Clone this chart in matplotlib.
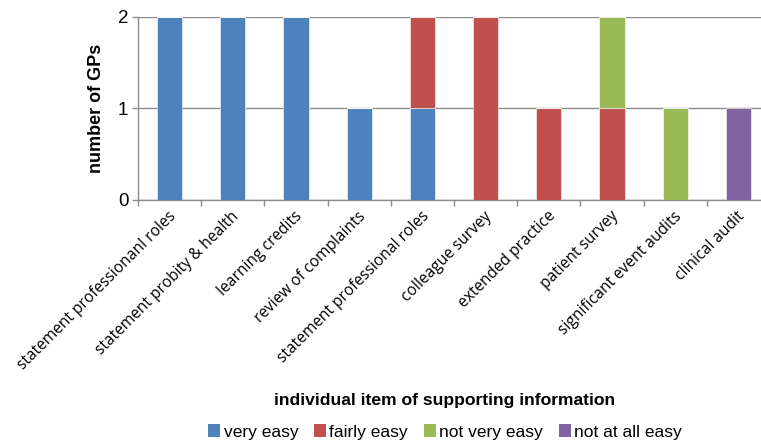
import numpy as np
import matplotlib
matplotlib.use('Agg')
import matplotlib.pyplot as plt
from matplotlib.patches import Patch

items = ['statement professionanl roles', 'statement probity & health',
         'learning credits', 'review of complaints',
         'statement professional roles', 'colleague survey',
         'extended practice', 'patient survey',
         'significant event audits', 'clinical audit']
levels = ['very easy', 'fairly easy', 'not very easy', 'not at all easy']
very_easy = [2, 2, 2, 1, 1, 0, 0, 0, 0, 0]
fairly_easy = [0, 0, 0, 0, 1, 2, 1, 1, 0, 0]
not_very_easy = [0, 0, 0, 0, 0, 0, 0, 1, 1, 0]
not_at_all_easy = [0, 0, 0, 0, 0, 0, 0, 0, 0, 1]
colors = ['#4F81BD', '#C0504D', '#9BBB59', '#8064A2']

fig = plt.figure(figsize=(7.61, 4.43), dpi=100)
# axes runs slightly past the right edge of the image, as in the reference
ax = fig.add_axes([138 / 761, 1 - 200 / 443, 632 / 761, 183 / 443])

x = np.arange(len(items))
bottom = np.zeros(len(items))
for vals, col in zip([very_easy, fairly_easy, not_very_easy, not_at_all_easy], colors):
    ax.bar(x, vals, width=0.4, bottom=bottom, color=col,
           edgecolor='white', linewidth=0.4, zorder=3)
    bottom += np.array(vals)

ax.set_xlim(-0.5, len(items) - 0.5)
ax.set_ylim(0, 2)
ax.set_yticks([0, 1, 2])
ax.yaxis.grid(True, color='#8c8c8c', linewidth=1.0, zorder=0)
for s in ['top', 'right']:
    ax.spines[s].set_visible(False)
for s in ['left', 'bottom']:
    ax.spines[s].set_color('#8c8c8c')
    ax.spines[s].set_linewidth(1.0)

ax.set_xticks(np.arange(len(items) + 1) - 0.5)
ax.set_xticklabels([])
ax.tick_params(axis='x', length=4, color='#8c8c8c', width=1)
ax.tick_params(axis='y', length=4, color='#8c8c8c', width=1, pad=3,
               labelsize=13.5)
for lab in ax.get_yticklabels():
    lab.set_fontfamily('Liberation Sans')

for i, name in enumerate(items):
    ax.annotate(name, xy=(i, 0), xycoords=('data', 'axes fraction'),
                xytext=(3, -10), textcoords='offset points',
                rotation=45, rotation_mode='anchor', ha='right', va='center',
                fontsize=11.2, family='Open Sans')

ax.set_ylabel('number of GPs', fontsize=13, fontweight='bold',
              family='Liberation Sans', labelpad=9)
fig.text(445 / 761, 1 - 400 / 443, 'individual item of supporting information',
         ha='center', va='center', fontsize=12.6, fontweight='bold',
         family='Liberation Sans')

handles = [Patch(facecolor=c, edgecolor='none') for c in colors]
fig.legend(handles, levels, loc='center', bbox_to_anchor=(445 / 761, 1 - 432 / 443),
           ncol=4, frameon=False, handlelength=0.7, handleheight=0.7,
           handletextpad=0.2, columnspacing=0.9,
           prop={'family': 'Liberation Sans', 'size': 12.5})

fig.savefig('out.png', dpi=100)
